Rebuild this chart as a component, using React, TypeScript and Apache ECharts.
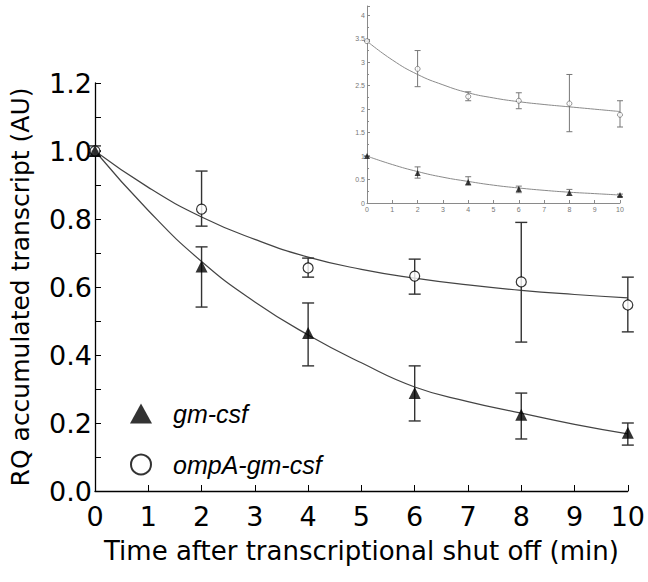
import React, { useEffect, useRef } from "react";
import * as echarts from "echarts";

// Main plot data
const times = [0, 2, 4, 6, 8, 10];
const gmMean = [1.0, 0.66, 0.465, 0.288, 0.224, 0.171];
const gmLow = [0.985, 0.541, 0.368, 0.206, 0.153, 0.135];
const gmHigh = [1.015, 0.718, 0.553, 0.368, 0.288, 0.2];
const ompMean = [1.0, 0.829, 0.656, 0.632, 0.615, 0.547];
const ompLow = [1.0, 0.779, 0.629, 0.579, 0.438, 0.468];
const ompHigh = [1.0, 0.941, 0.685, 0.682, 0.79, 0.629];

// Fitted curves (read at each minute)
const fitTimes = [0, 1, 2, 3, 4, 5, 6, 7, 8, 9, 10];
const gmFit = [1.0, 0.825, 0.675, 0.556, 0.459, 0.377, 0.306, 0.263, 0.229, 0.196, 0.168];
const ompFit = [1.0, 0.893, 0.806, 0.74, 0.688, 0.652, 0.626, 0.606, 0.59, 0.578, 0.568];

// Inset data
const insetOmpMean = [3.45, 2.86, 2.27, 2.18, 2.12, 1.88];
const insetOmpLow = [3.45, 2.48, 2.18, 2.01, 1.52, 1.62];
const insetOmpHigh = [3.45, 3.25, 2.37, 2.35, 2.74, 2.18];
const insetOmpFit = [3.45, 3.05, 2.74, 2.52, 2.35, 2.24, 2.16, 2.1, 2.05, 2.0, 1.95];
const insetGmMean = [1.0, 0.64, 0.45, 0.3, 0.22, 0.17];
const insetGmLow = [1.0, 0.53, 0.38, 0.22, 0.16, 0.14];
const insetGmHigh = [1.0, 0.77, 0.56, 0.36, 0.29, 0.19];
const insetGmFit = [1.0, 0.82, 0.67, 0.55, 0.46, 0.38, 0.32, 0.27, 0.23, 0.2, 0.17];

const seriesNames = ["gm-csf", "ompA-gm-csf"];
const xAxisTitle = "Time after transcriptional shut off (min)";
const yAxisTitle = "RQ accumulated transcript (AU)";

const FONT = "Liberation Sans, Arial, sans-serif";
const WIDE = "DejaVu Sans, Liberation Sans, sans-serif";

function errorSeries(lows: number[], highs: number[], idx: number, cap: number, color: string, lw: number) {
  return {
    type: "custom",
    xAxisIndex: idx,
    yAxisIndex: idx,
    silent: true,
    z: 3,
    encode: { x: 0, y: [1, 2] },
    data: times.map((t, i) => [t, lows[i], highs[i]]),
    renderItem: (params: any, api: any) => {
      const x = api.value(0);
      const p1 = api.coord([x, api.value(1)]);
      const p2 = api.coord([x, api.value(2)]);
      const style = { stroke: color, lineWidth: lw };
      return {
        type: "group",
        children: [
          { type: "line", shape: { x1: p1[0], y1: p1[1], x2: p2[0], y2: p2[1] }, style },
          { type: "line", shape: { x1: p1[0] - cap, y1: p1[1], x2: p1[0] + cap, y2: p1[1] }, style },
          { type: "line", shape: { x1: p2[0] - cap, y1: p2[1], x2: p2[0] + cap, y2: p2[1] }, style },
        ],
      };
    },
  };
}

export default function App() {
  const ref = useRef<HTMLDivElement>(null);
  useEffect(() => {
    if (!ref.current) return;
    const chart = echarts.init(ref.current, null, { renderer: "svg" });
    const mainColor = "#333";
    const insetColor = "#8a8a8a";
    chart.setOption({
      animation: false,
      backgroundColor: "#fff",
      textStyle: { fontFamily: FONT },
      grid: [
        { left: 95, top: 83, width: 534, height: 408 },
        { left: 367, top: 6, width: 253, height: 197 },
      ],
      legend: {
        orient: "vertical",
        left: 125,
        top: 396,
        itemWidth: 22,
        itemHeight: 20,
        itemGap: 26,
        data: [
          { name: seriesNames[0], icon: "triangle" },
          { name: seriesNames[1], icon: "circle" },
        ],
        textStyle: {
          fontFamily: FONT,
          fontSize: 25,
          fontStyle: "italic",
          color: "#000",
          padding: [0, 0, 0, 16],
        },
      },
      xAxis: [
        {
          type: "value",
          gridIndex: 0,
          min: 0,
          max: 10,
          interval: 1,
          name: xAxisTitle,
          nameLocation: "middle",
          nameGap: 47,
          nameTextStyle: { fontSize: 26, color: "#000", fontFamily: WIDE },
          axisLine: { show: true, lineStyle: { color: "#000", width: 1.3 } },
          axisTick: { show: true, inside: true, length: 6, lineStyle: { color: "#000" } },
          axisLabel: { fontSize: 27, color: "#000", margin: 12, fontFamily: WIDE },
          splitLine: { show: false },
        },
        {
          type: "value",
          gridIndex: 1,
          min: 0,
          max: 10,
          interval: 1,
          axisLine: { show: true, lineStyle: { color: insetColor, width: 1 } },
          axisTick: { show: true, inside: true, length: 3, lineStyle: { color: insetColor } },
          axisLabel: { fontSize: 7, color: "#777", margin: 3, fontFamily: FONT },
          splitLine: { show: false },
        },
      ],
      yAxis: [
        {
          type: "value",
          gridIndex: 0,
          min: 0,
          max: 1.2,
          interval: 0.2,
          name: yAxisTitle,
          nameLocation: "middle",
          nameRotate: 90,
          nameGap: 62,
          nameTextStyle: { fontSize: 25, color: "#000", fontFamily: WIDE },
          axisLine: { show: true, lineStyle: { color: "#000", width: 1.3 } },
          axisTick: { show: true, inside: true, length: 6, lineStyle: { color: "#000" } },
          minorTick: { show: true, splitNumber: 2, length: 6, lineStyle: { color: "#000" } },
          axisLabel: {
            fontSize: 27,
            color: "#000",
            margin: 3,
            fontFamily: WIDE,
            formatter: (v: number) => v.toFixed(1),
          },
          splitLine: { show: false },
        },
        {
          type: "value",
          gridIndex: 1,
          min: 0,
          max: 4.2,
          interval: 0.5,
          axisLine: { show: true, lineStyle: { color: insetColor, width: 1 } },
          axisTick: { show: true, inside: true, length: 3, lineStyle: { color: insetColor } },
          minorTick: { show: true, splitNumber: 2, length: 2, lineStyle: { color: insetColor } },
          axisLabel: { fontSize: 7, color: "#777", margin: 2, fontFamily: FONT, showMaxLabel: false },
          splitLine: { show: false },
        },
      ],
      series: [
        // Main fitted curves
        {
          type: "line",
          name: "gm-csf fit",
          xAxisIndex: 0,
          yAxisIndex: 0,
          data: fitTimes.map((t, i) => [t, gmFit[i]]),
          smooth: true,
          showSymbol: false,
          lineStyle: { color: "#444", width: 1.2 },
          z: 2,
        },
        {
          type: "line",
          name: "ompA fit",
          xAxisIndex: 0,
          yAxisIndex: 0,
          data: fitTimes.map((t, i) => [t, ompFit[i]]),
          smooth: true,
          showSymbol: false,
          lineStyle: { color: "#444", width: 1.2 },
          z: 2,
        },
        errorSeries(gmLow, gmHigh, 0, 6, mainColor, 1.4),
        errorSeries(ompLow, ompHigh, 0, 6, mainColor, 1.4),
        {
          type: "scatter",
          name: seriesNames[1],
          xAxisIndex: 0,
          yAxisIndex: 0,
          data: times.map((t, i) => [t, ompMean[i]]),
          symbol: "circle",
          symbolSize: 10,
          itemStyle: { color: "#fff", borderColor: "#000", borderWidth: 1.2 },
          z: 5,
        },
        {
          type: "scatter",
          name: seriesNames[0],
          xAxisIndex: 0,
          yAxisIndex: 0,
          data: times.map((t, i) => [t, gmMean[i]]),
          symbol: "triangle",
          symbolSize: 12,
          itemStyle: { color: "#000" },
          z: 6,
        },
        // Inset
        {
          type: "line",
          name: "inset gm fit",
          xAxisIndex: 1,
          yAxisIndex: 1,
          data: fitTimes.map((t, i) => [t, insetGmFit[i]]),
          smooth: true,
          showSymbol: false,
          lineStyle: { color: insetColor, width: 1 },
          z: 2,
        },
        {
          type: "line",
          name: "inset ompA fit",
          xAxisIndex: 1,
          yAxisIndex: 1,
          data: fitTimes.map((t, i) => [t, insetOmpFit[i]]),
          smooth: true,
          showSymbol: false,
          lineStyle: { color: insetColor, width: 1 },
          z: 2,
        },
        errorSeries(insetGmLow, insetGmHigh, 1, 3, "#777", 1),
        errorSeries(insetOmpLow, insetOmpHigh, 1, 3, "#777", 1),
        {
          type: "scatter",
          name: "inset gm",
          xAxisIndex: 1,
          yAxisIndex: 1,
          data: times.map((t, i) => [t, insetGmMean[i]]),
          symbol: "triangle",
          symbolSize: 6,
          itemStyle: { color: "#111" },
          z: 5,
        },
        {
          type: "scatter",
          name: "inset ompA",
          xAxisIndex: 1,
          yAxisIndex: 1,
          data: times.map((t, i) => [t, insetOmpMean[i]]),
          symbol: "circle",
          symbolSize: 5,
          itemStyle: { color: "#fff", borderColor: "#555", borderWidth: 0.8 },
          z: 5,
        },
      ],
    });
    return () => chart.dispose();
  }, []);
  return <div ref={ref} style={{ width: 648, height: 582, position: "absolute", left: 0, top: 0 }} />;
}
